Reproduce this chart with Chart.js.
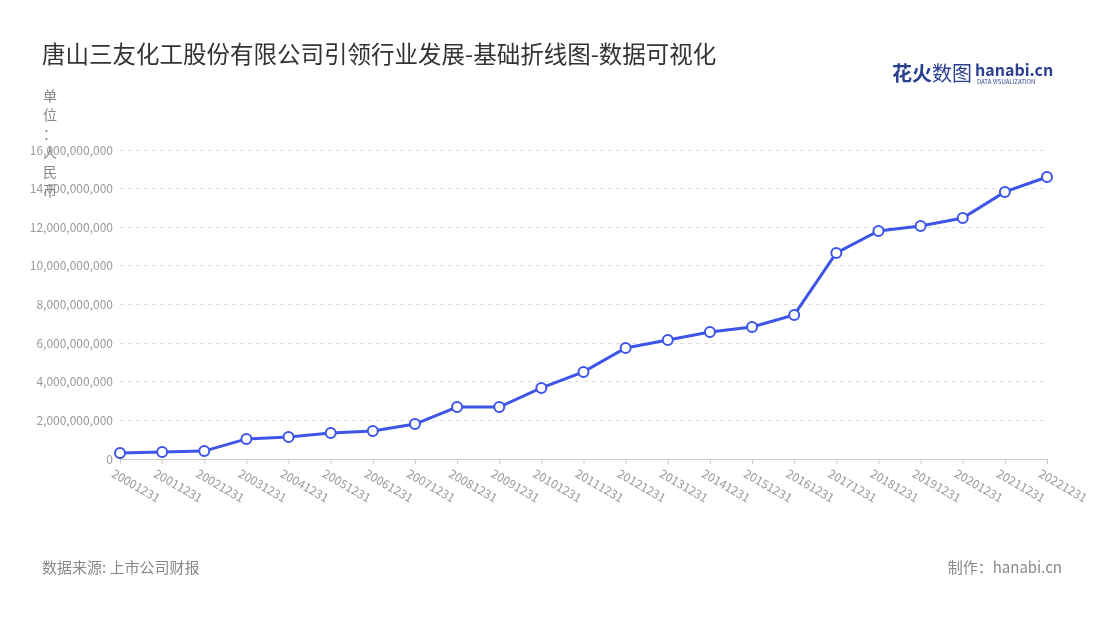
<!DOCTYPE html>
<html>
<head>
<meta charset="utf-8">
<script src="https://cdn.jsdelivr.net/npm/chart.js@4/dist/chart.umd.min.js"></script>
<style>
  body { margin: 0; background: #fff; }
  #wrap { width: 1100px; height: 620px; position: relative; }
</style>
</head>
<body>
<div id="wrap"><canvas id="lineChart"></canvas></div>
<script>
var years = ["20001231","20011231","20021231","20031231","20041231","20051231","20061231","20071231","20081231","20091231","20101231","20111231","20121231","20131231","20141231","20151231","20161231","20171231","20181231","20191231","20201231","20211231","20221231"];
var revenue = [0.31e9,0.36e9,0.41e9,1.04e9,1.14e9,1.35e9,1.45e9,1.81e9,2.69e9,2.69e9,3.68e9,4.51e9,5.75e9,6.16e9,6.58e9,6.84e9,7.46e9,10.67e9,11.81e9,12.07e9,12.48e9,13.83e9,14.60e9];

var font = "'Noto Sans CJK SC', 'Noto Sans', sans-serif";

var decor = {
    id: 'decor',
    afterDraw: function (chart) {
        var c = chart.ctx;
        c.save();
        // x ticks and labels, rotated down-right from each tick
        var xs = chart.scales.x;
        c.strokeStyle = '#ccc';
        c.lineWidth = 1;
        c.font = '12px ' + font;
        c.fillStyle = '#999';
        c.textBaseline = 'top';
        for (var j = 0; j < years.length; j++) {
            var px = xs.getPixelForValue(j);
            c.beginPath();
            c.moveTo(px + 0.5, xs.top);
            c.lineTo(px + 0.5, xs.top + 5);
            c.stroke();
            c.save();
            c.translate(px - 4, xs.top + 8);
            c.rotate(Math.PI / 6);
            c.fillText(years[j], 0, 0);
            c.restore();
        }
        c.fillStyle = '#333';
        c.font = '23.5px ' + font;
        c.textBaseline = 'middle';
        c.fillText('唐山三友化工股份有限公司引领行业发展-基础折线图-数据可视化', 42, 54);
        c.font = '14px ' + font;
        c.fillStyle = '#888';
        var unit = ['单', '位', '：', '人', '民', '币'];
        for (var i = 0; i < unit.length; i++) c.fillText(unit[i], 43, 96 + i * 19);
        c.font = '15px ' + font;
        c.fillText('数据来源: 上市公司财报', 42, 567);
        c.textAlign = 'right';
        c.fillText('制作：hanabi.cn', 1062, 567);
        c.textAlign = 'left';
        c.font = 'bold 20px ' + font;
        c.fillStyle = '#2a3f8f';
        c.fillText('花火', 892, 73);
        c.font = '20px ' + font;
        c.fillText('数图', 932, 73);
        c.font = 'bold 16px ' + font;
        c.fillText('hanabi.cn', 975, 70);
        c.font = '6px ' + font;
        c.fillText('DATA VISUALIZATION', 977, 82);
        c.restore();
    }
};

var ctx = document.getElementById("lineChart").getContext("2d");
new Chart(ctx, {
    type: 'line',
    data: {
        labels: years,
        datasets: [{
            data: revenue,
            borderColor: '#3d55e8',
            borderWidth: 3,
            pointRadius: 5,
            pointHoverRadius: 5,
            pointBackgroundColor: '#fff',
            pointBorderColor: '#3d55e8',
            pointBorderWidth: 2,
            tension: 0
        }]
    },
    options: {
        responsive: true,
        maintainAspectRatio: false,
        animation: false,
        layout: { padding: { left: 20, right: 53, top: 150, bottom: 161 } },
        plugins: { legend: { display: false }, tooltip: { enabled: false } },
        scales: {
            x: {
                offset: false,
                grid: { display: false },
                border: { color: '#ccc' },
                ticks: { display: false },
                afterFit: function (s) { s.height = 0; }
            },
            y: {
                min: 0, max: 16e9,
                ticks: {
                    stepSize: 2e9, color: '#999', font: { size: 12, family: font }, padding: 7,
                    callback: function (v) { return v.toLocaleString('en-US'); }
                },
                border: { display: false, dash: [4, 4] },
                grid: { color: '#ddd', tickLength: 0 },
                afterFit: function (s) { s.width = 100; }
            }
        }
    },
    plugins: [decor]
});
</script>
</body>
</html>
